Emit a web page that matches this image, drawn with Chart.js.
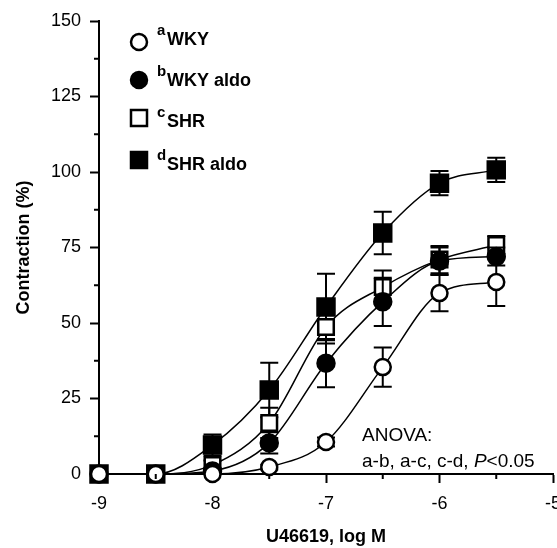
<!DOCTYPE html>
<html>
<head>
<meta charset="utf-8">
<script src="https://cdn.jsdelivr.net/npm/chart.js@4.4.0/dist/chart.umd.min.js"></script>
<style>
html, body { margin: 0; padding: 0; background: #fff; overflow: hidden; }
#wrap { width: 557px; height: 548px; overflow: hidden; }
</style>
</head>
<body>
<div id="wrap"><canvas id="c" width="600" height="548"></canvas></div>
<script>
// ---------- DATA ----------
const logDose = [-9, -8.5, -8, -7.5, -7, -6.5, -6, -5.5];

const wky      = [0, 0, 0, 2.3, 10.6, 35.4, 59.9, 63.6];
const wkyErr   = [0, 0, 0, 0.8, 1.5, 6.5, 6, 8];
const wkyAldo    = [0, 0, 1, 10.3, 36.7, 57, 70.5, 72];
const wkyAldoErr = [0, 0, 0.8, 3.5, 8, 8, 4.5, 3];
const shr      = [0, 0, 3, 16.9, 48.7, 61.9, 71, 75.8];
const shrErr   = [0, 0, 1.5, 5, 5.5, 5.5, 4.5, 3];
const shrAldo    = [0, 0, 9.6, 27.8, 55.3, 79.8, 96.3, 100.7];
const shrAldoErr = [0, 0, 3.5, 9, 11, 7, 4, 4];

const seriesSup   = ['a', 'b', 'c', 'd'];
const seriesNames = ['WKY', 'WKY aldo', 'SHR', 'SHR aldo'];
const xTickLabels = [-9, -8, -7, -6, -5];
const yTickLabels = [0, 25, 50, 75, 100, 125, 150];

const errors = [wkyErr, wkyAldoErr, shrErr, shrAldoErr];
const FONT = '"Liberation Sans", Arial, Helvetica, sans-serif';

function pts(vals){
    return logDose.map((x, i) => ({x: x, y: vals[i]}));
}

function series(vals, style, radius, fill){
    return {
        data: pts(vals),
        borderColor: '#000',
        borderWidth: 1.5,
        cubicInterpolationMode: 'monotone',
        pointStyle: style,
        pointRadius: radius,
        pointBorderWidth: 2.5,
        pointBorderColor: '#000',
        pointBackgroundColor: fill,
        clip: false
    };
}

// ------------ ERROR BARS, drawn just before each dataset ------------
const errorBars = {
    id: 'errorBars',
    beforeDatasetDraw(chart, args){
        const err = errors[args.index];
        const yScale = chart.scales.y;
        const ctx = chart.ctx;
        const ds = chart.data.datasets[args.index];
        ctx.save();
        ctx.strokeStyle = '#000';
        ctx.lineWidth = 2;
        args.meta.data.forEach((pt, i) => {
            if(!err[i]) return;
            const v = ds.data[i].y;
            const top = yScale.getPixelForValue(v + err[i]);
            const bot = yScale.getPixelForValue(v - err[i]);
            ctx.beginPath();
            ctx.moveTo(pt.x, top); ctx.lineTo(pt.x, bot);
            ctx.moveTo(pt.x - 9, top); ctx.lineTo(pt.x + 9, top);
            ctx.moveTo(pt.x - 9, bot); ctx.lineTo(pt.x + 9, bot);
            ctx.stroke();
        });
        ctx.restore();
    }
};

// ------------ MINOR TICKS, LEGEND AND ANOVA NOTE ------------
const extras = {
    id: 'extras',
    afterDraw(chart){
        const ctx = chart.ctx;
        const xs = chart.scales.x, ys = chart.scales.y;
        const area = chart.chartArea;
        ctx.save();
        ctx.strokeStyle = '#000';
        ctx.lineWidth = 2;
        ctx.beginPath();
        xs.ticks.forEach(t => {
            if(xTickLabels.includes(t.value)) return;
            const px = xs.getPixelForValue(t.value);
            ctx.moveTo(px, area.bottom); ctx.lineTo(px, area.bottom + 5);
        });
        ys.ticks.forEach(t => {
            if(yTickLabels.includes(t.value)) return;
            const py = ys.getPixelForValue(t.value);
            ctx.moveTo(area.left, py); ctx.lineTo(area.left - 5, py);
        });
        ctx.stroke();

        // legend
        const symY  = [42, 80, 118, 160];
        const baseY = [45, 86, 127, 170];
        const styles = chart.data.datasets;
        styles.forEach((ds, i) => {
            const y = symY[i], x = 139;
            ctx.beginPath();
            if(ds.pointStyle === 'circle'){
                ctx.arc(x, y, 8, 0, Math.PI * 2);
            } else {
                ctx.rect(x - 8, y - 8, 16, 16);
            }
            ctx.fillStyle = ds.pointBackgroundColor;
            ctx.fill();
            ctx.lineWidth = 2.5;
            ctx.stroke();
            ctx.fillStyle = '#000';
            ctx.textBaseline = 'alphabetic';
            ctx.textAlign = 'left';
            ctx.font = 'bold 15px ' + FONT;
            ctx.fillText(seriesSup[i], 157, baseY[i] - 10);
            ctx.font = 'bold 18px ' + FONT;
            ctx.fillText(seriesNames[i], 167, baseY[i]);
        });

        // ANOVA note
        ctx.font = '19px ' + FONT;
        ctx.fillText('ANOVA:', 362, 441);
        let tx = 362;
        const part1 = 'a-b, a-c, c-d, ';
        ctx.fillText(part1, tx, 467);
        tx += ctx.measureText(part1).width;
        ctx.font = 'italic 19px ' + FONT;
        ctx.fillText('P', tx, 467);
        tx += ctx.measureText('P').width;
        ctx.font = '19px ' + FONT;
        ctx.fillText('<0.05', tx, 467);
        ctx.restore();
    }
};

new Chart(document.getElementById('c'), {
    type: 'line',
    data: {
        datasets: [
            series(wky, 'circle', 8, '#fff'),
            series(wkyAldo, 'circle', 8.5, '#000'),
            series(shr, 'rect', 11, '#fff'),
            series(shrAldo, 'rect', 12, '#000')
        ]
    },
    options: {
        responsive: false,
        animation: false,
        devicePixelRatio: 1,
        layout: { padding: { left: 0, right: 47, top: 21, bottom: 0 } },
        plugins: { legend: { display: false }, tooltip: { enabled: false } },
        scales: {
            x: {
                type: 'linear',
                min: -9, max: -5,
                z: 1,
                afterFit: s => { s.height = 74; },
                ticks: {
                    stepSize: 0.5,
                    autoSkip: false,
                    maxRotation: 0,
                    padding: 10,
                    color: '#000',
                    font: { family: FONT, size: 18 },
                    callback: v => xTickLabels.includes(v) ? String(v) : ''
                },
                grid: {
                    drawOnChartArea: false,
                    tickLength: 9,
                    tickWidth: 2,
                    tickColor: c => (c.tick && xTickLabels.includes(c.tick.value)) ? '#000' : 'rgba(0,0,0,0)'
                },
                border: { display: true, color: '#000', width: 2 },
                title: {
                    display: true,
                    text: 'U46619, log M',
                    color: '#000',
                    font: { family: FONT, size: 18, weight: 'bold' },
                    padding: { top: 0, bottom: 0 }
                }
            },
            y: {
                min: 0, max: 150,
                z: 1,
                afterFit: s => { s.width = 99; },
                ticks: {
                    stepSize: 12.5,
                    autoSkip: false,
                    padding: 9,
                    color: '#000',
                    font: { family: FONT, size: 18 },
                    callback: v => yTickLabels.includes(v) ? String(v) : ''
                },
                grid: {
                    drawOnChartArea: false,
                    tickLength: 9,
                    tickWidth: 2,
                    tickColor: c => (c.tick && yTickLabels.includes(c.tick.value)) ? '#000' : 'rgba(0,0,0,0)'
                },
                border: { display: true, color: '#000', width: 2 },
                title: {
                    display: true,
                    text: 'Contraction (%)',
                    color: '#000',
                    font: { family: FONT, size: 18, weight: 'bold' },
                    padding: { top: 13, bottom: 0 }
                }
            }
        }
    },
    plugins: [errorBars, extras]
});
</script>
</body>
</html>
